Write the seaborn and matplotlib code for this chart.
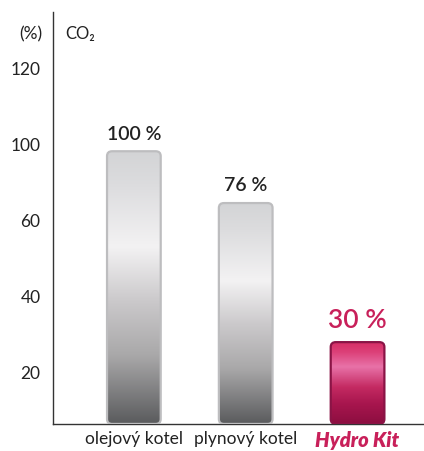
import numpy as np
import pandas as pd
import matplotlib
matplotlib.use("Agg")
import matplotlib.pyplot as plt
import seaborn as sns
from matplotlib.colors import LinearSegmentedColormap
from matplotlib.patches import FancyBboxPatch

# --------------------------------------------------------------
# Data
# --------------------------------------------------------------
categories = ["olejový kotel", "plynový kotel", "Hydro Kit"]
percent_labels = [100, 76, 30]
bar_heights = [100, 81, 30]  # drawn heights
tick_positions = [19, 46.8, 74.6, 102.4, 130.2]
tick_labels = ["20", "40", "60", "100", "120"]

df = pd.DataFrame({"system": categories, "height": bar_heights})

sns.set_theme(style="white")
plt.rcParams["font.family"] = ["Lato", "DejaVu Sans"]

fig = plt.figure(figsize=(4.24, 4.51), dpi=100)
ax = fig.add_axes([0.125, 0.060, 0.875, 0.913])

ax = sns.barplot(data=df, x="system", y="height", width=0.48, ax=ax, color="white")

# top -> bottom colour stops
gray_cmap = LinearSegmentedColormap.from_list(
    "gray_bar",
    [(0.0, "#d3d4d6"), (0.12, "#dcdcde"), (0.35, "#f3f2f3"), (0.55, "#cbc9cb"),
     (0.75, "#a9a8a9"), (1.0, "#5a5b5d")],
)
pink_cmap = LinearSegmentedColormap.from_list(
    "pink_bar",
    [(0.0, "#d62e66"), (0.12, "#dc4078"), (0.3, "#e872a8"), (0.55, "#c42a62"),
     (0.75, "#a8164e"), (1.0, "#8c0e40")],
)
cmaps = [gray_cmap, gray_cmap, pink_cmap]
edges = ["#bdbdbf", "#bdbdbf", "#8a1446"]

grad = np.linspace(0, 1, 256).reshape(-1, 1)
for patch, cmap, edge in zip(ax.patches, cmaps, edges):
    x0, y0 = patch.get_x(), patch.get_y()
    w, h = patch.get_width(), patch.get_height()
    patch.set_visible(False)
    rounded = FancyBboxPatch(
        (x0, y0), w, h,
        boxstyle="round,pad=0,rounding_size=0.045",
        mutation_aspect=40,
        facecolor="none", edgecolor=edge, linewidth=1.6, zorder=3,
    )
    ax.add_patch(rounded)
    img = ax.imshow(grad, cmap=cmap, extent=(x0, x0 + w, y0, y0 + h),
                    aspect="auto", zorder=2, interpolation="bilinear")
    img.set_clip_path(rounded)

ax.set_xlim(-0.723, 2.594)
ax.set_ylim(0, 151)

# value labels above the bars
for i, (hgt, pct) in enumerate(zip(bar_heights, percent_labels)):
    if i == 2:
        ax.text(i, hgt + 3.2, f"{pct} %", ha="center", va="bottom",
                fontsize=19, color="#c8205a", fontweight="semibold")
    else:
        ax.text(i, hgt + 3.2, f"{pct} %", ha="center", va="bottom",
                fontsize=14, color="#222222", fontweight="semibold")

ax.set_yticks(tick_positions)
ax.set_yticklabels(tick_labels, fontsize=12.5, color="#222222")
ax.tick_params(axis="y", length=0, pad=9)
ax.tick_params(axis="x", length=0, pad=5)
ax.set_xticks(range(len(categories)))
ax.set_xticklabels(categories, fontsize=12.5, color="#222222")
xt = ax.get_xticklabels()
xt[2].set_color("#c8205a")
xt[2].set_fontweight("heavy")
xt[2].set_fontstyle("italic")
xt[2].set_fontsize(14.5)
ax.set_xlabel("")
ax.set_ylabel("")

ax.text(-0.82, 143, "(%)", ha="right", va="center",
        fontsize=12.5, color="#222222")
ax.text(-0.61, 143, "CO₂", ha="left", va="center", fontsize=12, color="#222222")

for side in ["top", "right"]:
    ax.spines[side].set_visible(False)
ax.spines["left"].set_color("#333333")
ax.spines["bottom"].set_color("#333333")
ax.spines["left"].set_linewidth(1.0)
ax.spines["bottom"].set_linewidth(1.0)

plt.savefig("out.png", dpi=100)
